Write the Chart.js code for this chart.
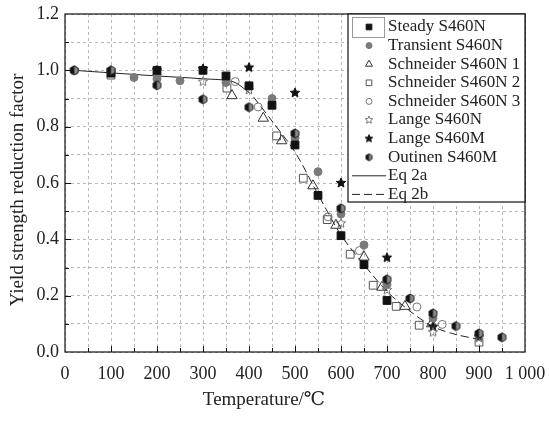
<!DOCTYPE html>
<html lang="en">
<head>
<meta charset="UTF-8">
<title>Yield strength reduction factor</title>
<script src="https://cdn.jsdelivr.net/npm/chart.js"></script>
<style>
  html, body { margin: 0; padding: 0; background: #fff; }
  #wrap { width: 549px; height: 422px; }
</style>
</head>
<body>
<div id="wrap"><canvas id="chart" width="549" height="422"></canvas></div>
<script>
// values
var steadyT = [100, 200, 300, 350, 400, 450, 500, 550, 600, 650, 700];
var steadyV = [0.99, 1.0, 1.0, 0.98, 0.945, 0.876, 0.735, 0.556, 0.413, 0.31, 0.183];

var transientT = [150, 200, 250, 350, 400, 450, 500, 550, 600, 650, 700, 800];
var transientV = [0.975, 0.97, 0.963, 0.957, 0.944, 0.9, 0.76, 0.64, 0.49, 0.38, 0.24, 0.12];

var schneider1T = [363, 431, 471, 539, 589, 650, 689, 739, 797];
var schneider1V = [0.91, 0.83, 0.75, 0.59, 0.45, 0.337, 0.23, 0.162, 0.1];

var schneider2T = [100, 352, 460, 518, 570, 620, 670, 720, 770, 900];
var schneider2V = [0.983, 0.937, 0.767, 0.617, 0.47, 0.347, 0.237, 0.162, 0.095, 0.035];

var schneider3T = [20, 370, 420, 572, 640, 765, 820];
var schneider3V = [1.0, 0.96, 0.87, 0.48, 0.36, 0.16, 0.098];

var langeNT = [20, 100, 200, 300, 400, 600, 700, 800, 900];
var langeNV = [1.0, 1.0, 0.98, 0.96, 0.93, 0.457, 0.22, 0.07, 0.05];

var langeMT = [200, 300, 400, 500, 600, 700, 800, 900];
var langeMV = [1.0, 1.005, 1.01, 0.92, 0.6, 0.335, 0.09, 0.055];

var outinenT = [20, 100, 200, 300, 400, 500, 600, 700, 750, 800, 850, 900, 950];
var outinenV = [1.0, 1.0, 0.947, 0.897, 0.869, 0.776, 0.51, 0.258, 0.19, 0.137, 0.092, 0.066, 0.052];

var eq2aT = [20, 100, 200, 300, 365, 400];
var eq2aV = [1.0, 0.991, 0.98, 0.97, 0.96, 0.922];

var eq2bT = [410, 450, 500, 550, 600, 650, 700, 750, 800, 850, 900];
var eq2bV = [0.905, 0.82, 0.71, 0.56, 0.415, 0.31, 0.215, 0.145, 0.09, 0.062, 0.045];

var seriesNames = ['Steady S460N', 'Transient S460N', 'Schneider S460N 1', 'Schneider S460N 2',
  'Schneider S460N 3', 'Lange S460N', 'Lange S460M', 'Outinen S460M', 'Eq 2a', 'Eq 2b'];

function pts(xs, ys) {
  return xs.map(function(x, i) { return { x: x, y: ys[i] }; });
}

// little canvases for the marker shapes Chart.js does not have
function starImage(size, fill, stroke) {
  var c = document.createElement('canvas');
  c.width = c.height = size + 2;
  var g = c.getContext('2d');
  var cx = (size + 2) / 2, R = size / 2, r = R * 0.45;
  g.beginPath();
  for (var i = 0; i < 10; i++) {
    var a = -Math.PI / 2 + i * Math.PI / 5;
    var rr = i % 2 ? r : R;
    g.lineTo(cx + rr * Math.cos(a), cx + rr * Math.sin(a));
  }
  g.closePath();
  if (fill) { g.fillStyle = fill; g.fill(); }
  if (stroke) { g.strokeStyle = stroke; g.lineWidth = 1; g.stroke(); }
  return c;
}

function halfHexImage(size) {
  var c = document.createElement('canvas');
  c.width = c.height = size + 2;
  var g = c.getContext('2d');
  var cx = (size + 2) / 2, R = size / 2;
  function hex() {
    g.beginPath();
    for (var i = 0; i < 6; i++) {
      var a = -Math.PI / 2 + i * Math.PI / 3;
      g.lineTo(cx + R * Math.cos(a), cx + R * Math.sin(a));
    }
    g.closePath();
  }
  hex();
  g.fillStyle = '#8a8a8a';
  g.fill();
  g.save();
  g.beginPath();
  g.rect(0, 0, cx, size + 2);
  g.clip();
  hex();
  g.fillStyle = '#111';
  g.fill();
  g.restore();
  hex();
  g.strokeStyle = '#222';
  g.lineWidth = 1;
  g.stroke();
  return c;
}

var openStar = starImage(10, null, '#777');
var blackStar = starImage(10, '#111', '#111');
var outinenMark = halfHexImage(9);
var openStarSmall = starImage(8, null, '#777');
var blackStarSmall = starImage(8, '#111', '#111');
var outinenSmall = halfHexImage(7);

var serif = "'Liberation Serif', 'DejaVu Serif', serif";

var datasets = [
  { label: seriesNames[0], data: pts(steadyT, steadyV), pointStyle: 'rect', pointRadius: 5.5,
    pointBackgroundColor: '#111', pointBorderColor: '#111', pointBorderWidth: 1, order: 1,
    legendStyle: 'rect', legendRadius: 4 },
  { label: seriesNames[1], data: pts(transientT, transientV), pointStyle: 'circle', pointRadius: 4,
    pointBackgroundColor: '#7a7a7a', pointBorderColor: '#7a7a7a', pointBorderWidth: 1, order: 2,
    legendStyle: 'circle', legendRadius: 3 },
  { label: seriesNames[2], data: pts(schneider1T, schneider1V), pointStyle: 'triangle', pointRadius: 6,
    pointBackgroundColor: 'rgba(255,255,255,0)', pointBorderColor: '#333', pointBorderWidth: 1, order: 3,
    legendStyle: 'triangle', legendRadius: 4 },
  { label: seriesNames[3], data: pts(schneider2T, schneider2V), pointStyle: 'rect', pointRadius: 5.5,
    pointBackgroundColor: 'rgba(255,255,255,0)', pointBorderColor: '#555', pointBorderWidth: 1, order: 4,
    legendStyle: 'rect', legendRadius: 4 },
  { label: seriesNames[4], data: pts(schneider3T, schneider3V), pointStyle: 'circle', pointRadius: 4,
    pointBackgroundColor: 'rgba(255,255,255,0)', pointBorderColor: '#777', pointBorderWidth: 1, order: 5,
    legendStyle: 'circle', legendRadius: 3 },
  { label: seriesNames[5], data: pts(langeNT, langeNV), pointStyle: openStar, pointRadius: 5, order: 6,
    legendStyle: openStarSmall },
  { label: seriesNames[6], data: pts(langeMT, langeMV), pointStyle: blackStar, pointRadius: 5, order: 7,
    legendStyle: blackStarSmall },
  { label: seriesNames[7], data: pts(outinenT, outinenV), pointStyle: outinenMark, pointRadius: 5, order: 0,
    legendStyle: outinenSmall },
  { label: seriesNames[8], data: pts(eq2aT, eq2aV), showLine: true, pointRadius: 0, borderColor: '#222',
    borderWidth: 1, tension: 0.3, order: 20 },
  { label: seriesNames[9], data: pts(eq2bT, eq2bV), showLine: true, pointRadius: 0, borderColor: '#222',
    borderWidth: 1, borderDash: [8, 4], tension: 0.3, order: 21 }
];

// frame, inward ticks, legend box and axis titles
var decorations = {
  id: 'decorations',
  afterDraw: function(chart) {
    var ctx = chart.ctx, a = chart.chartArea;
    var xs = chart.scales.x, ys = chart.scales.y;
    ctx.save();
    ctx.strokeStyle = '#111';
    ctx.lineWidth = 1.2;
    ctx.strokeRect(a.left, a.top, a.right - a.left, a.bottom - a.top);

    ctx.lineWidth = 1;
    ctx.beginPath();
    for (var t = 50; t < 1000; t += 50) {
      var px = Math.round(xs.getPixelForValue(t)) + 0.5;
      var len = t % 100 === 0 ? 6 : 4;
      ctx.moveTo(px, a.bottom);
      ctx.lineTo(px, a.bottom - len);
    }
    for (var k = 1; k < 12; k++) {
      var py = Math.round(ys.getPixelForValue(k / 10)) + 0.5;
      var l2 = k % 2 === 0 ? 6 : 4;
      ctx.moveTo(a.left, py);
      ctx.lineTo(a.left + l2, py);
    }
    ctx.stroke();

    // legend
    var lx = 348, ly = a.top, lw = a.right - lx, lh = 188;
    ctx.fillStyle = '#fff';
    ctx.fillRect(lx, ly, lw, lh);
    ctx.strokeStyle = '#111';
    ctx.lineWidth = 1.2;
    ctx.strokeRect(lx, ly, lw, lh);
    ctx.strokeStyle = '#999';
    ctx.lineWidth = 1;
    ctx.strokeRect(352.5, 17.5, 32, 20);

    ctx.font = '17px ' + serif;
    ctx.textBaseline = 'middle';
    ctx.textAlign = 'left';
    chart.data.datasets.forEach(function(ds, i) {
      var cy = 27 + i * 18.6;
      if (ds.showLine) {
        ctx.save();
        ctx.strokeStyle = '#222';
        ctx.lineWidth = 1;
        ctx.setLineDash(ds.borderDash || []);
        ctx.beginPath();
        ctx.moveTo(352, cy);
        ctx.lineTo(386, cy);
        ctx.stroke();
        ctx.restore();
      } else {
        ctx.save();
        ctx.fillStyle = ds.pointBackgroundColor || '#000';
        ctx.strokeStyle = ds.pointBorderColor || '#000';
        ctx.lineWidth = 1;
        Chart.helpers.drawPoint(ctx, { pointStyle: ds.legendStyle, radius: ds.legendRadius || 4,
          rotation: 0, borderWidth: 1 }, 369, cy);
        ctx.restore();
      }
      ctx.fillStyle = '#222';
      ctx.fillText(ds.label, 388, cy);
    });

    // axis titles
    ctx.fillStyle = '#222';
    ctx.font = '19px ' + serif;
    ctx.textAlign = 'center';
    ctx.fillText('Temperature/℃', 264, 400);
    ctx.save();
    ctx.translate(18, 190);
    ctx.rotate(-Math.PI / 2);
    ctx.fillText('Yield strength reduction factor', 0, 0);
    ctx.restore();
    ctx.restore();
  }
};

new Chart(document.getElementById('chart'), {
  type: 'scatter',
  data: { datasets: datasets },
  options: {
    responsive: false,
    animation: false,
    devicePixelRatio: 1,
    layout: { padding: { top: 14, right: 24, left: 0, bottom: 0 } },
    plugins: { legend: { display: false }, tooltip: { enabled: false } },
    scales: {
      x: {
        type: 'linear', min: 0, max: 1000,
        afterFit: function(s) { s.height = 70; s.paddingLeft = 0; s.paddingRight = 0; },
        ticks: {
          stepSize: 50, autoSkip: false, maxRotation: 0, padding: 11, color: '#222',
          font: { family: serif, size: 18 },
          callback: function(v) {
            if (v % 100 !== 0) return '';
            return v === 1000 ? '1 000' : String(v);
          }
        },
        grid: { color: '#b8b8b8', lineWidth: 1, drawTicks: false },
        border: { display: false, dash: [3, 3] }
      },
      y: {
        type: 'linear', min: 0, max: 1.2,
        afterFit: function(s) { s.width = 65; s.paddingTop = 0; s.paddingBottom = 0; },
        ticks: {
          stepSize: 0.1, autoSkip: false, padding: 6, color: '#222',
          font: { family: serif, size: 18 },
          callback: function(v) {
            var k = Math.round(v * 10);
            return k % 2 === 0 ? (k / 10).toFixed(1) : '';
          }
        },
        grid: { color: '#b8b8b8', lineWidth: 1, drawTicks: false },
        border: { display: false, dash: [3, 3] }
      }
    }
  },
  plugins: [decorations]
});
</script>
</body>
</html>
